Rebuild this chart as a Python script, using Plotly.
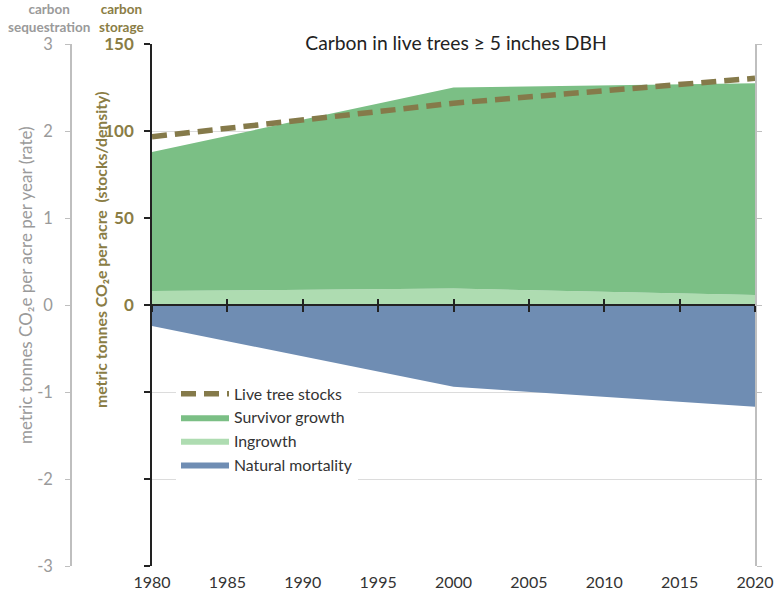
import plotly.graph_objects as go

# inventory years
years = [1980, 2000, 2020]

# carbon sequestration rates, metric tonnes CO2e per acre per year
ingrowth = [0.16, 0.19, 0.115]
survivor_growth = [1.60, 2.31, 2.435]
natural_mortality = [-0.24, -0.94, -1.17]

# carbon storage, metric tonnes CO2e per acre
live_tree_stocks = [96.7, 116.0, 130.3]

x_ticks = [1980, 1985, 1990, 1995, 2000, 2005, 2010, 2015, 2020]
seq_ticks = [-3, -2, -1, 0, 1, 2, 3]
seq_labels = ['-3', '-2', '-1', '0', '1', '2', '3']
stor_ticks = [-150, -100, -50, 0, 50, 100, 150]
stor_labels = ['', '', '', '0', '50', '100', '150']

FONT = 'Lato'
GREY = '#9a9a9a'
OLIVE = '#8a7d45'

W, H = 781, 598
ML, MR, MT, MB = 0, 26, 44, 32
PW = W - ML - MR
PH = H - MT - MB


def px(x):
    # screen x pixel -> paper fraction
    return (x - ML) / PW


def py(y):
    # screen y pixel -> paper fraction
    return (H - MB - y) / PH


fig = go.Figure()

fig.add_trace(go.Scatter(x=years, y=ingrowth, name='Ingrowth', stackgroup='pos',
                         mode='lines', line=dict(width=0), fillcolor='#aedcb1',
                         legendrank=3))
fig.add_trace(go.Scatter(x=years, y=survivor_growth, name='Survivor growth', stackgroup='pos',
                         mode='lines', line=dict(width=0), fillcolor='#7bbf85',
                         legendrank=2))
fig.add_trace(go.Scatter(x=years, y=natural_mortality, name='Natural mortality', stackgroup='neg',
                         mode='lines', line=dict(width=0), fillcolor='#6f8db3',
                         legendrank=4))
fig.add_trace(go.Scatter(x=years, y=live_tree_stocks, name='Live tree stocks', yaxis='y2',
                         mode='lines', line=dict(color='#857a4a', width=5.5, dash='15px,8px'),
                         legendrank=1))

# empty helpers so the extra axes get drawn
fig.add_trace(go.Scatter(x=[None], y=[None], xaxis='x2', yaxis='y', showlegend=False, hoverinfo='skip'))
fig.add_trace(go.Scatter(x=[None], y=[None], xaxis='x3', yaxis='y', showlegend=False, hoverinfo='skip'))
fig.add_trace(go.Scatter(x=[None], y=[None], xaxis='x', yaxis='y3', showlegend=False, hoverinfo='skip'))

fig.update_layout(
    template='none',
    width=W, height=H,
    margin=dict(l=ML, r=MR, t=MT, b=MB, autoexpand=False),
    paper_bgcolor='white', plot_bgcolor='white',
    font=dict(family=FONT, size=14, color='#333333'),
    hovermode=False,
    xaxis=dict(domain=[px(152), 1], range=[1980, 2020], tickvals=x_ticks,
               showline=False, showgrid=False, zeroline=False, ticks='', automargin=False,
               tickfont=dict(size=16, color='#333333'), ticklabelstandoff=5),
    xaxis2=dict(overlaying='x', anchor='free', position=0.5, range=[1980, 2020],
                tickvals=x_ticks, showticklabels=False, showgrid=False, zeroline=False,
                showline=True, linecolor='#222222', linewidth=1.5, automargin=False,
                ticks='outside', ticklen=6, tickwidth=1.5, tickcolor='#222222'),
    xaxis3=dict(overlaying='x', anchor='free', position=0.5, range=[1980, 2020],
                tickvals=x_ticks, showticklabels=False, showgrid=False, zeroline=False,
                showline=False, automargin=False,
                ticks='inside', ticklen=6, tickwidth=1.5, tickcolor='#222222'),
    yaxis=dict(range=[-3, 3], tickvals=seq_ticks, ticktext=seq_labels,
               anchor='free', position=px(71), side='left', automargin=False,
               showline=True, linecolor='#bfbfbf', linewidth=1.5,
               ticks='outside', ticklen=5, tickcolor='#bfbfbf',
               showgrid=True, gridcolor='#dcdcdc', gridwidth=1, zeroline=False,
               tickfont=dict(size=16.5, color=GREY), ticklabelstandoff=9),
    yaxis2=dict(overlaying='y', anchor='x', side='left', range=[-150, 150],
                tickvals=stor_ticks, ticktext=stor_labels, automargin=False,
                showline=True, linecolor='#222222', linewidth=1.5,
                ticks='outside', ticklen=6, tickwidth=1.5, tickcolor='#222222',
                showgrid=False, zeroline=False,
                tickfont=dict(size=17, color=OLIVE, weight='bold'), ticklabelstandoff=7),
    yaxis3=dict(overlaying='y', anchor='x', side='right', range=[-3, 3], tickvals=seq_ticks,
                showticklabels=False, showgrid=False, zeroline=False, automargin=False,
                showline=True, linecolor='#bfbfbf', linewidth=1.5,
                ticks='outside', ticklen=5, tickcolor='#bfbfbf'),
    legend=dict(x=px(176), y=py(377), xanchor='left', yanchor='top',
                bgcolor='white', borderwidth=0, traceorder='normal', tracegroupgap=0,
                font=dict(size=15.8, color='#333333'), itemwidth=48),
    showlegend=True,
)

fig.add_annotation(text='Carbon in live trees ≥ 5 inches DBH', xref='paper', yref='paper',
                   x=px(455.5), y=py(43), xanchor='center', yanchor='middle', showarrow=False,
                   bgcolor='white', width=360, font=dict(size=19.3, color='#222222'))
fig.add_annotation(text='metric tonnes CO₂e per acre per year (rate)', xref='paper', yref='paper',
                   x=px(25), y=py(285), xanchor='center', yanchor='middle', textangle=-90,
                   showarrow=False, font=dict(size=17, color=GREY))
fig.add_annotation(text='<b>metric tonnes CO₂e per acre  (stocks/density)</b>', xref='paper', yref='paper',
                   x=px(100), y=py(250), xanchor='center', yanchor='middle', textangle=-90,
                   showarrow=False, font=dict(size=15.8, color=OLIVE))
fig.add_annotation(text='<b>carbon<br>sequestration</b>', xref='paper', yref='paper',
                   x=px(49), y=py(18), xanchor='center', yanchor='middle', showarrow=False,
                   font=dict(size=13.5, color=GREY))
fig.add_annotation(text='<b>carbon<br>storage</b>', xref='paper', yref='paper',
                   x=px(121), y=py(18), xanchor='center', yanchor='middle', showarrow=False,
                   font=dict(size=13.5, color=OLIVE))

# drop the default body margin so the figure fills the window
fig.write_html("out.html", config={'displayModeBar': False},
               post_script="document.body.style.margin='0';")
